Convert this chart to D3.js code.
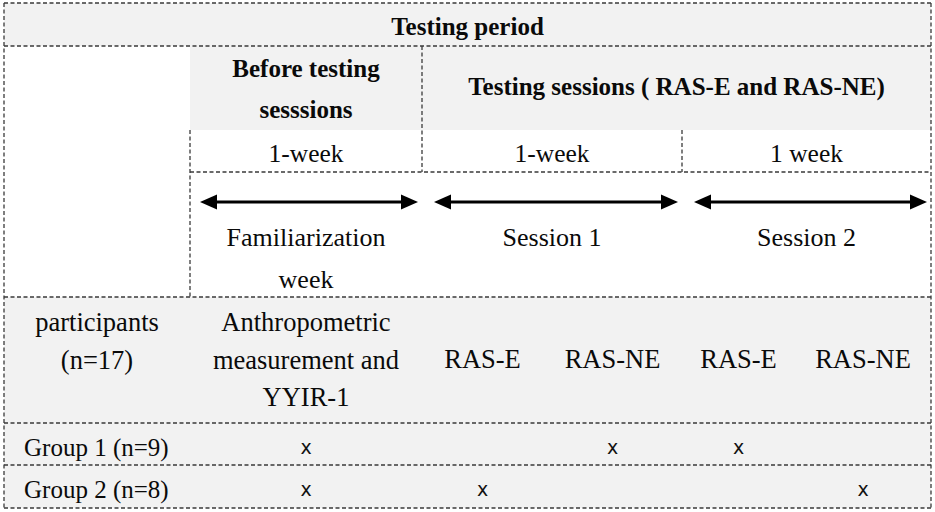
<!DOCTYPE html>
<html>
<head>
<meta charset="utf-8">
<script src="https://cdn.jsdelivr.net/npm/d3@7"></script>
<style>
  body { margin: 0; background: #fff; }
</style>
</head>
<body>
<svg id="design"></svg>
<script>
// Table content
const periodTitle = "Testing period";
const phaseHeaders = [["Before testing", "sesssions"], ["Testing sessions ( RAS-E and RAS-NE)"]];
const weekLabels = ["1-week", "1-week", "1 week"];
const arrowLabels = [["Familiarization", "week"], ["Session 1"], ["Session 2"]];
const columnHeaders = [
    ["participants", "(n=17)"],
    ["Anthropometric", "measurement and", "YYIR-1"],
    ["RAS-E"], ["RAS-NE"], ["RAS-E"], ["RAS-NE"]
];
const groups = ["Group 1 (n=9)", "Group 2 (n=8)"];
// 1 = attended, columns follow columnHeaders after the label column
const groupMarks = [
    [1, 0, 1, 1, 0],
    [1, 1, 0, 0, 1]
];

document.addEventListener('DOMContentLoaded', () => {
    const width = 935, height = 512;
    const gray = '#f2f2f2';
    const line = '#3a3a3a';
    const serif = "'Liberation Serif', 'Times New Roman', 'DejaVu Serif', serif";

    const svg = d3.select('#design')
        .attr('width', width)
        .attr('height', height);

    // Column and row edges of the grid
    const colEdges = [4, 190, 422, 543, 682, 795, 931];
    const rowEdges = [3, 46, 130, 172, 297, 423, 465, 508];
    // week segments span pairs of columns after the first phase
    const segEdges = [colEdges[1], colEdges[2], colEdges[4], colEdges[6]];

    const colX = i => (colEdges[i] + colEdges[i + 1]) / 2;
    const segX = i => (segEdges[i] + segEdges[i + 1]) / 2;

    // Backgrounds
    const bgs = [
        [colEdges[0], rowEdges[0], colEdges[6], rowEdges[1]],
        [colEdges[1], rowEdges[1], colEdges[6], rowEdges[2]],
        [colEdges[0], rowEdges[4], colEdges[6], rowEdges[7]]
    ];
    svg.selectAll('rect.bg')
        .data(bgs)
        .enter()
        .append('rect')
        .attr('class', 'bg')
        .attr('x', d => d[0])
        .attr('y', d => d[1])
        .attr('width', d => d[2] - d[0])
        .attr('height', d => d[3] - d[1])
        .attr('fill', gray);

    // Dashed grid lines
    const segs = [
        // outer box
        [colEdges[0], rowEdges[0], colEdges[6], rowEdges[0]],
        [colEdges[0], rowEdges[7], colEdges[6], rowEdges[7]],
        [colEdges[0], rowEdges[0], colEdges[0], rowEdges[7]],
        [colEdges[6], rowEdges[0], colEdges[6], rowEdges[7]],
        // horizontals
        [colEdges[0], rowEdges[1], colEdges[6], rowEdges[1]],
        [colEdges[1], rowEdges[3], colEdges[6], rowEdges[3]],
        [colEdges[0], rowEdges[4], colEdges[6], rowEdges[4]],
        [colEdges[0], rowEdges[5], colEdges[6], rowEdges[5]],
        [colEdges[0], rowEdges[6], colEdges[6], rowEdges[6]],
        // verticals
        [colEdges[1], rowEdges[2], colEdges[1], rowEdges[4]],
        [colEdges[2], rowEdges[1], colEdges[2], rowEdges[3]],
        [colEdges[4], rowEdges[2], colEdges[4], rowEdges[3]]
    ];
    svg.selectAll('line.grid')
        .data(segs)
        .enter()
        .append('line')
        .attr('class', 'grid')
        .attr('x1', d => d[0]).attr('y1', d => d[1])
        .attr('x2', d => d[2]).attr('y2', d => d[3])
        .attr('stroke', line)
        .attr('stroke-width', 1.3)
        .attr('stroke-dasharray', '4 2.5');

    // Helper for multi-line centered text
    function multiText(lines, x, y0, lh, opts = {}) {
        const t = svg.append('text')
            .attr('text-anchor', opts.anchor || 'middle')
            .attr('font-family', serif)
            .attr('fill', '#0a0a0a')
            .attr('font-size', opts.size || 25)
            .attr('font-weight', opts.bold ? 'bold' : 'normal');
        lines.forEach((s, i) => {
            t.append('tspan').attr('x', x).attr('y', y0 + i * lh).text(s);
        });
        return t;
    }

    // Title row
    multiText([periodTitle], (colEdges[0] + colEdges[6]) / 2, 35, 0, { bold: true });

    // Phase headers
    multiText(phaseHeaders[0], colX(1), 77, 41, { bold: true });
    multiText(phaseHeaders[1], (colEdges[2] + colEdges[6]) / 2, 95, 0, { bold: true });

    // Week labels
    weekLabels.forEach((w, i) => multiText([w], segX(i), 162, 0, { size: 25.5 }));

    // Arrows
    const arrowY = 202;
    const head = 17, halfH = 7.5;
    arrowLabels.forEach((lab, i) => {
        const x1 = segEdges[i] + (i === 0 ? 10 : 12);
        const x2 = segEdges[i + 1] - 4;
        svg.append('line')
            .attr('x1', x1 + head - 2).attr('x2', x2 - head + 2)
            .attr('y1', arrowY).attr('y2', arrowY)
            .attr('stroke', '#000')
            .attr('stroke-width', 3);
        svg.append('path')
            .attr('d', `M${x1},${arrowY}L${x1 + head},${arrowY - halfH}L${x1 + head},${arrowY + halfH}Z`)
            .attr('fill', '#000');
        svg.append('path')
            .attr('d', `M${x2},${arrowY}L${x2 - head},${arrowY - halfH}L${x2 - head},${arrowY + halfH}Z`)
            .attr('fill', '#000');
        multiText(lab, segX(i), 246, 42, { size: 26 });
    });

    // Column headers of the participant row
    columnHeaders.forEach((lines, i) => {
        let y0 = 331;
        if (lines.length === 1) y0 = 368;
        multiText(lines, colX(i), y0, 37.5, { size: 26.5 });
    });

    // Group rows
    groups.forEach((g, r) => {
        const base = rowEdges[5 + r] + 33;
        multiText([g], colEdges[0] + 20, base, 0, { anchor: 'start' });
        groupMarks[r].forEach((m, c) => {
            if (!m) return;
            svg.append('text')
                .attr('x', colX(c + 1))
                .attr('y', base - 2)
                .attr('text-anchor', 'middle')
                .attr('font-family', "'DejaVu Sans', sans-serif")
                .attr('fill', '#111')
                .attr('font-size', 19)
                .text('x');
        });
    });
});
</script>
</body>
</html>
